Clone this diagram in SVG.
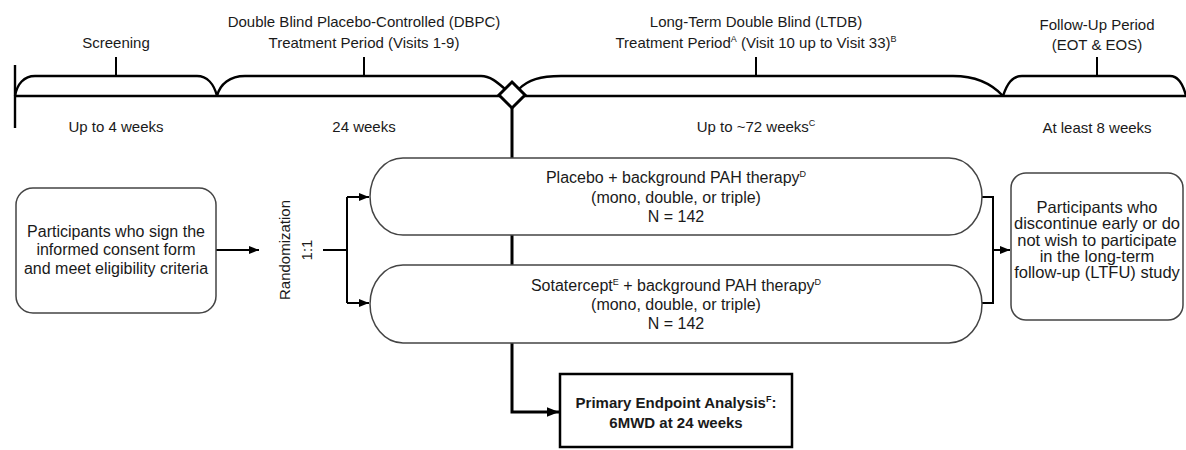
<svg xmlns="http://www.w3.org/2000/svg" width="1186" height="450" viewBox="0 0 1186 450">
<style>
text{font-family:"Liberation Sans",Arial,sans-serif;fill:#1a1a1a;text-anchor:middle}
.hd{font-size:15px}
.bx{font-size:16px}
.rb{font-size:16.5px}
.sup{font-size:9px}
.tl{fill:none;stroke:#000;stroke-width:2.4}
.tk{fill:none;stroke:#000;stroke-width:2}
.node{fill:#fff;stroke:#444;stroke-width:1.5}
.cn{fill:none;stroke:#000;stroke-width:2}
.thick{fill:none;stroke:#000;stroke-width:3}
</style>
<defs>
<marker id="ah" viewBox="0 0 10 10" refX="10" refY="5" markerWidth="10" markerHeight="10" markerUnits="userSpaceOnUse" orient="auto">
<path d="M0,1 L10,5 L0,9 Z" fill="#000"/>
</marker>
<marker id="ah2" viewBox="0 0 10 10" refX="10" refY="5" markerWidth="12" markerHeight="12" markerUnits="userSpaceOnUse" orient="auto">
<path d="M0,1 L10,5 L0,9 Z" fill="#000"/>
</marker>
</defs>

<g id="timeline">
<path class="tl" d="M15,96 H1186"/>
<path class="tl" d="M15,65 V128"/>
<path class="tl" d="M15,96 C17,84 24,76 35,76 L197,76 C207,76 214,84 217,96"/>
<path class="tl" d="M217,96 C220,84 230,76 245,76 L481,76 C490,76 497,82 505,89"/>
<path class="tl" d="M519,89 C528,80 540,76 561,76 L953,76 C975,76 992,84 1003,96"/>
<path class="tl" d="M1003,96 C1007,84 1012,76 1022,76 L1170,76 C1178,76 1183,84 1186,96"/>
<path class="tk" d="M116,76 V57 M364,76 V57 M756,76 V57 M1097,76 V57"/>
</g>

<g id="period-labels">
<text class="hd" x="116" y="48">Screening</text>
<text class="hd" x="364" y="27">Double Blind Placebo-Controlled (DBPC)</text>
<text class="hd" x="364" y="48">Treatment Period (Visits 1-9)</text>
<text class="hd" x="756" y="27">Long-Term Double Blind (LTDB)</text>
<text class="hd" x="756" y="48">Treatment Period<tspan class="sup" dy="-6">A</tspan><tspan dy="6"> (Visit 10 up to Visit 33)</tspan><tspan class="sup" dy="-6">B</tspan></text>
<text class="hd" x="1097" y="30">Follow-Up Period</text>
<text class="hd" x="1097" y="50">(EOT &amp; EOS)</text>
<text class="hd" x="116" y="132">Up to 4 weeks</text>
<text class="hd" x="364" y="132">24 weeks</text>
<text class="hd" x="756" y="132">Up to ~72 weeks<tspan class="sup" dy="-6">C</tspan></text>
<text class="hd" x="1097" y="133">At least 8 weeks</text>
</g>

<g id="connectors">
<path class="thick" d="M512,108 V412 H559" marker-end="url(#ah2)"/>
<path class="cn" d="M216,250 H259" marker-end="url(#ah)"/>
<path class="cn" d="M323,250 H347"/>
<path class="cn" d="M347,197 V303"/>
<path class="cn" d="M347,197 H369" marker-end="url(#ah)"/>
<path class="cn" d="M347,303 H369" marker-end="url(#ah)"/>
<path class="cn" d="M982,197 H993 V303 H982"/>
<path class="cn" d="M993,250 H1010" marker-end="url(#ah)"/>
</g>

<g id="randomization-point">
<polygon points="512,82 525,95 512,108 499,95" fill="#fff" stroke="#000" stroke-width="3"/>
</g>

<g id="node-screened">
<rect class="node" x="16" y="188" width="200" height="125" rx="17"/>
<text class="bx" x="116" y="236.5">Participants who sign the</text>
<text class="bx" x="116" y="255">informed consent form</text>
<text class="bx" x="116" y="273.5">and meet eligibility criteria</text>
</g>

<g id="node-randomization">
<text class="hd" transform="translate(285,250) rotate(-90)" x="0" y="5">Randomization</text>
<text class="hd" transform="translate(307,250) rotate(-90)" x="0" y="5">1:1</text>
</g>

<g id="node-placebo">
<rect class="node" x="370" y="158" width="612" height="77" rx="33" ry="38.5"/>
<text class="bx" x="676" y="182.5">Placebo + background PAH therapy<tspan class="sup" dy="-6">D</tspan></text>
<text class="bx" x="676" y="202.5">(mono, double, or triple)</text>
<text class="bx" x="676" y="221.5">N = 142</text>
</g>

<g id="node-sotatercept">
<rect class="node" x="370" y="265" width="612" height="78" rx="33" ry="39"/>
<text class="bx" x="676" y="290.5">Sotatercept<tspan class="sup" dy="-6">E</tspan><tspan dy="6"> + background PAH therapy</tspan><tspan class="sup" dy="-6">D</tspan></text>
<text class="bx" x="676" y="309.5">(mono, double, or triple)</text>
<text class="bx" x="676" y="328.5">N = 142</text>
</g>

<g id="node-discontinue">
<rect class="node" x="1011" y="173" width="172" height="147" rx="15"/>
<text class="rb" x="1097" y="213">Participants who</text>
<text class="rb" x="1097" y="229">discontinue early or do</text>
<text class="rb" x="1097" y="245.5">not wish to participate</text>
<text class="rb" x="1097" y="262">in the long-term</text>
<text class="rb" x="1097" y="278">follow-up (LTFU) study</text>
</g>

<g id="node-primary">
<rect x="560" y="374" width="232" height="73" fill="#fff" stroke="#000" stroke-width="2.5"/>
<text x="676" y="408" font-size="15" font-weight="bold">Primary Endpoint Analysis<tspan class="sup" dy="-6">F</tspan><tspan dy="6">:</tspan></text>
<text x="676" y="428" font-size="15" font-weight="bold">6MWD at 24 weeks</text>
</g>
</svg>
